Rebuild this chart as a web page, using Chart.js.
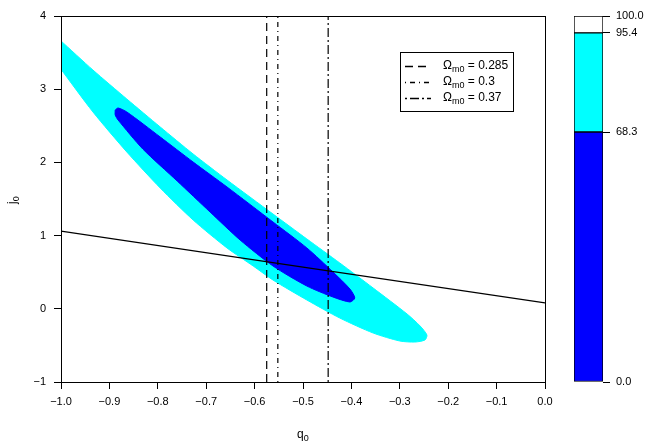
<!DOCTYPE html>
<html>
<head>
<meta charset="utf-8">
<script src="https://cdn.jsdelivr.net/npm/chart.js@4/dist/chart.umd.min.js"></script>
<style>
  body { margin: 0; background: #fff; }
  #wrap { position: relative; width: 664px; height: 443px; }
  #main { position: absolute; left: 0; top: 0; }
  #bar { position: absolute; left: 560px; top: 0; }
</style>
</head>
<body>
<div id="wrap">
  <canvas id="main" width="560" height="443"></canvas>
  <canvas id="bar" width="104" height="443"></canvas>
</div>
<script>
// tick labels
var qTicks = [-1.0, -0.9, -0.8, -0.7, -0.6, -0.5, -0.4, -0.3, -0.2, -0.1, 0.0];
var jTicks = [-1, 0, 1, 2, 3, 4];

// 95.4% contour outline (q0, j0)
var outerQ = [-1.033, -1.002, -0.934, -0.864, -0.795, -0.727, -0.657, -0.562, -0.492, -0.424,
              -0.355, -0.285, -0.258, -0.244, -0.248, -0.269, -0.300, -0.355, -0.424, -0.492,
              -0.562, -0.603, -0.657, -0.727, -0.795, -0.864, -0.934, -1.002, -1.033];
var outerJ = [3.863, 3.672, 3.262, 2.866, 2.484, 2.115, 1.760, 1.295, 0.954, 0.626,
              0.284, -0.071, -0.235, -0.358, -0.426, -0.454, -0.440, -0.331, -0.126, 0.120,
              0.393, 0.585, 0.831, 1.213, 1.650, 2.142, 2.689, 3.290, 3.563];

// 68.3% contour outline (q0, j0)
var innerQ = [-0.888, -0.882, -0.864, -0.795, -0.727, -0.657, -0.562, -0.492, -0.438, -0.403,
              -0.393, -0.403, -0.438, -0.492, -0.562, -0.630, -0.692, -0.760, -0.831, -0.882, -0.888];
var innerJ = [2.716, 2.743, 2.689, 2.347, 2.005, 1.664, 1.186, 0.831, 0.503, 0.270,
              0.148, 0.093, 0.161, 0.311, 0.585, 0.940, 1.322, 1.746, 2.183, 2.579, 2.648];

// solid line
var lineQ = [-1.0, -0.5, 0.0];
var lineJ = [1.06, 0.57, 0.08];

// vertical lines for Omega_m0
var omegaVals = ['0.285', '0.3', '0.37'];
var omegaQ = [-0.575, -0.552, -0.448];
var omegaDash = [[8, 5], [1, 4, 5, 4], [2, 3, 9, 3]];

// colour bar levels
var confLevels = [68.3, 95.4, 100.0];
var confColors = ['#0000ff', '#00ffff', '#ffffff'];
var barTicks = [0.0, 68.3, 95.4, 100.0];

var FONT = '"Liberation Sans", Arial, sans-serif';

function pts(xs, ys, close) {
  var out = xs.map(function(x, i) { return {x: x, y: ys[i]}; });
  if (close) out.push({x: xs[0], y: ys[0]});
  return out;
}

function fmtNum(v, d) {
  var s = Math.abs(v).toFixed(d);
  return (v < -1e-9 ? '\u2212' : '') + s;
}

function subText(ctx, x, y, main, sub, rest, size) {
  ctx.font = size + 'px ' + FONT;
  ctx.fillText(main, x, y);
  x += ctx.measureText(main).width;
  ctx.font = Math.round(size * 0.75) + 'px ' + FONT;
  ctx.fillText(sub, x, y + size * 0.3);
  x += ctx.measureText(sub).width;
  if (rest) {
    ctx.font = size + 'px ' + FONT;
    ctx.fillText(rest, x, y);
  }
}

var decor = {
  id: 'decor',
  afterDraw: function(chart) {
    var ctx = chart.ctx, a = chart.chartArea;
    ctx.save();
    ctx.strokeStyle = '#000';
    ctx.lineWidth = 1;
    ctx.strokeRect(Math.round(a.left) + 0.5, Math.round(a.top) + 0.5,
                   Math.round(a.right - a.left), Math.round(a.bottom - a.top));

    // legend box
    var lx = 400, ly = 52;
    ctx.fillStyle = '#fff';
    ctx.fillRect(lx, ly, 113, 59);
    ctx.strokeRect(lx + 0.5, ly + 0.5, 113, 59);
    ctx.fillStyle = '#000';
    ctx.textBaseline = 'middle';
    ctx.textAlign = 'left';
    omegaVals.forEach(function(v, i) {
      var y = ly + 14 + i * 16;
      ctx.beginPath();
      ctx.lineWidth = 1.3;
      ctx.setLineDash(omegaDash[i]);
      ctx.moveTo(lx + 5, y + 0.5);
      ctx.lineTo(lx + 31, y + 0.5);
      ctx.stroke();
      ctx.setLineDash([]);
      subText(ctx, lx + 43, y, '\u03A9', 'm0', ' = ' + v, 12);
    });

    // axis titles
    ctx.textAlign = 'left';
    subText(ctx, (a.left + a.right) / 2 - 6, 435, 'q', '0', '', 12);
    ctx.translate(13, (a.top + a.bottom) / 2 + 5);
    ctx.rotate(-Math.PI / 2);
    subText(ctx, 0, 0, 'j', '0', '', 12);
    ctx.restore();
  }
};

new Chart(document.getElementById('main').getContext('2d'), {
  type: 'scatter',
  data: {
    datasets: [
      { data: pts(outerQ, outerJ, true), showLine: true, fill: 'shape', tension: 0.25,
        backgroundColor: '#00ffff', borderColor: '#00ffff', borderWidth: 1, pointRadius: 0, order: 10 },
      { data: pts(innerQ, innerJ, true), showLine: true, fill: 'shape', tension: 0.25,
        backgroundColor: '#0000ff', borderColor: '#0000ff', borderWidth: 1, pointRadius: 0, order: 9 },
      { data: pts(lineQ, lineJ), showLine: true, borderColor: '#000', borderWidth: 1.2,
        pointRadius: 0, order: 5 }
    ].concat(omegaQ.map(function(q, i) {
      return { data: [{x: q, y: -1}, {x: q, y: 4}], showLine: true, borderColor: '#000',
               borderWidth: 1.2, borderDash: omegaDash[i], pointRadius: 0, order: 1 };
    }))
  },
  options: {
    responsive: false,
    animation: false,
    devicePixelRatio: 1,
    layout: { padding: { left: 0, top: 16, right: 15, bottom: 0 } },
    plugins: { legend: { display: false }, tooltip: { enabled: false } },
    scales: {
      x: {
        type: 'linear', min: -1, max: 0,
        afterBuildTicks: function(s) { s.ticks = qTicks.map(function(v) { return {value: v}; }); },
        afterFit: function(s) { s.height = 61; },
        grid: { drawOnChartArea: false, drawTicks: true, tickLength: 7, color: '#000' },
        border: { display: true, color: '#000' },
        ticks: { color: '#000', padding: 6, maxRotation: 0, autoSkip: false,
                 font: { family: FONT, size: 11 },
                 callback: function(v) { return fmtNum(v, 1); } }
      },
      y: {
        type: 'linear', min: -1, max: 4,
        afterBuildTicks: function(s) { s.ticks = jTicks.map(function(v) { return {value: v}; }); },
        afterFit: function(s) { s.width = 61; },
        grid: { drawOnChartArea: false, drawTicks: true, tickLength: 7, color: '#000' },
        border: { display: true, color: '#000' },
        ticks: { color: '#000', padding: 8, font: { family: FONT, size: 11 },
                 callback: function(v) { return fmtNum(v, 0); } }
      }
    }
  },
  plugins: [decor]
});

// colour bar
var prev = 0;
var barSets = confLevels.map(function(lv, i) {
  var seg = lv - prev;
  prev = lv;
  return { data: [seg], backgroundColor: confColors[i], borderColor: '#000', borderWidth: 1,
           borderSkipped: false, barPercentage: 1, categoryPercentage: 1 };
});

new Chart(document.getElementById('bar').getContext('2d'), {
  type: 'bar',
  data: { labels: [''], datasets: barSets },
  options: {
    responsive: false,
    animation: false,
    devicePixelRatio: 1,
    layout: { padding: { left: 14, top: 16, right: 0, bottom: 61 } },
    plugins: { legend: { display: false }, tooltip: { enabled: false } },
    scales: {
      x: { stacked: true, display: false },
      y: {
        stacked: true, position: 'right', min: 0, max: 100,
        afterBuildTicks: function(s) { s.ticks = barTicks.map(function(v) { return {value: v}; }); },
        afterFit: function(s) { s.width = 61; },
        grid: { drawOnChartArea: false, drawTicks: true, tickLength: 7, color: '#000' },
        border: { display: false },
        ticks: { color: '#000', padding: 6, font: { family: FONT, size: 11 },
                 callback: function(v) { return v.toFixed(1); } }
      }
    }
  }
});
</script>
</body>
</html>
